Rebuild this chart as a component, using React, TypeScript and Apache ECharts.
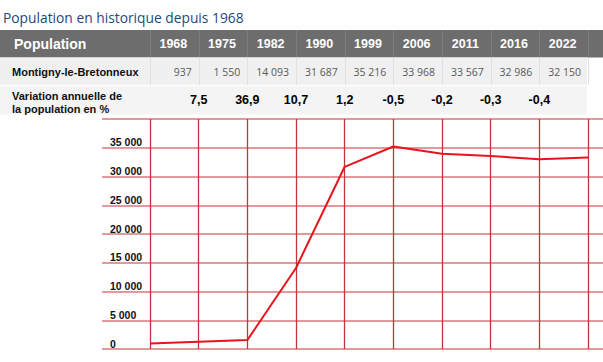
import React, { useEffect, useRef } from "react";
import * as echarts from "echarts";

// ---- data ----
const years = ["1968", "1975", "1982", "1990", "1999", "2006", "2011", "2016", "2022"];
const population = [937, 1550, 14093, 31687, 35216, 33968, 33567, 32986, 32150];
const variation = ["7,5", "36,9", "10,7", "1,2", "-0,5", "-0,2", "-0,3", "-0,4"];
const commune = "Montigny-le-Bretonneux";
const title = "Population en historique depuis 1968";
const rowHeader = "Population";
const rowVariation = ["Variation annuelle de", "la population en %"];
// line as drawn in the picture: slot on the grid and value
const lineSlots = [0, 2, 3, 4, 5, 6, 7, 8, 9];
const lineValues = [937, 1550, 14093, 31687, 35216, 33968, 33567, 32986, 33300];
const yMax = 40000;
const yStep = 5000;

const fmt = (n: number) => String(n).replace(/\B(?=(\d{3})+(?!\d))/g, " ");

// ---- layout ----
const W = 603;
const H = 362;
const COL0 = 150;
const COLN = 588;
const STEP = (COLN - COL0) / 9;
const bound = (i: number) => COL0 + i * STEP;
const SANS = "'Liberation Sans', Arial, sans-serif";

function buildGraphic() {
  const els: any[] = [];
  els.push({
    type: "text",
    x: 3,
    y: 17,
    style: { text: title, fill: "#1b4a7e", font: "13.8px 'Open Sans', sans-serif", verticalAlign: "middle" },
  });
  els.push({ type: "rect", shape: { x: 0, y: 30, width: W, height: 27.5 }, style: { fill: "#6d6d6d" } });
  els.push({ type: "rect", shape: { x: 0, y: 57.5, width: COLN - 1, height: 27.5 }, style: { fill: "#f0f0f0" } });
  els.push({ type: "rect", shape: { x: 0, y: 85.5, width: COLN - 1, height: 29 }, style: { fill: "#f4f4f4" } });
  els.push({ type: "line", shape: { x1: 0, y1: 85.2, x2: COLN - 1, y2: 85.2 }, style: { stroke: "#ffffff", lineWidth: 1 } });
  for (let i = 0; i <= years.length; i++) {
    const x = Math.round(bound(i)) + 0.5;
    els.push({ type: "line", shape: { x1: x, y1: 30, x2: x, y2: 57.5 }, style: { stroke: "#7c7c7c", lineWidth: 1 } });
    els.push({ type: "line", shape: { x1: x, y1: 57.5, x2: x, y2: 85 }, style: { stroke: "#e0e0e0", lineWidth: 1 } });
  }
  els.push({
    type: "text",
    x: 14,
    y: 44,
    style: { text: rowHeader, fill: "#ffffff", font: `bold 14px ${SANS}`, verticalAlign: "middle" },
  });
  years.forEach((yr, i) => {
    els.push({
      type: "text",
      x: bound(i) + STEP / 2 - 1,
      y: 44,
      style: { text: yr, fill: "#ffffff", font: `bold 12.5px ${SANS}`, align: "center", verticalAlign: "middle" },
    });
  });
  els.push({
    type: "text",
    x: 12,
    y: 72,
    style: { text: commune, fill: "#111111", font: `bold 11px ${SANS}`, verticalAlign: "middle" },
  });
  population.forEach((v, i) => {
    els.push({
      type: "text",
      x: bound(i + 1) - 7,
      y: 72,
      style: { text: fmt(v), fill: "#5a5a5a", font: "10.5px 'Open Sans', sans-serif", align: "right", verticalAlign: "middle" },
    });
  });
  rowVariation.forEach((t, k) => {
    els.push({
      type: "text",
      x: 12,
      y: 96 + k * 12.5,
      style: { text: t, fill: "#111111", font: `bold 11px ${SANS}`, verticalAlign: "middle" },
    });
  });
  variation.forEach((t, i) => {
    els.push({
      type: "text",
      x: bound(i + 1),
      y: 100,
      style: { text: t, fill: "#000000", font: `bold 12.5px ${SANS}`, align: "center", verticalAlign: "middle" },
    });
  });
  return els;
}

export default function App() {
  const ref = useRef<HTMLDivElement>(null);
  useEffect(() => {
    document.body.style.margin = "0";
    if (!ref.current) return;
    const chart = echarts.init(ref.current, null, { renderer: "svg" });
    const top = 119;
    const bottom = H - 349;
    chart.setOption({
      animation: false,
      backgroundColor: "#ffffff",
      grid: [
        { left: 102, right: 0, top, bottom },
        { left: COL0, right: W - COLN, top, bottom },
      ],
      xAxis: [
        { type: "value", gridIndex: 0, show: false, min: 0, max: 1 },
        {
          type: "value",
          gridIndex: 1,
          min: 0,
          max: 9,
          interval: 1,
          axisLine: { show: false },
          axisTick: { show: false },
          axisLabel: { show: false },
          splitLine: { show: true, lineStyle: { color: "#c4323a", width: 1.3 } },
        },
      ],
      yAxis: [
        {
          type: "value",
          gridIndex: 0,
          min: 0,
          max: yMax,
          interval: yStep,
          axisLine: { show: false },
          axisTick: { show: false },
          splitLine: { show: true, lineStyle: { color: "#d8777b", width: 1.5 } },
          axisLabel: {
            inside: true,
            margin: 8,
            align: "left",
            verticalAlign: "bottom",
            lineHeight: 11,
            color: "#111111",
            fontWeight: "bold",
            fontSize: 10.5,
            fontFamily: SANS,
            formatter: (v: number) => (v >= yMax ? "" : v === 0 ? "0" : fmt(v)),
          },
        },
        {
          type: "value",
          gridIndex: 1,
          min: 0,
          max: yMax,
          interval: yStep,
          show: false,
          splitLine: { show: false },
        },
      ],
      series: [
        {
          type: "line",
          xAxisIndex: 1,
          yAxisIndex: 1,
          data: lineSlots.map((s, i) => [s, lineValues[i]]),
          symbol: "none",
          lineStyle: { color: "#e8141c", width: 2 },
          z: 5,
        },
      ],
      graphic: buildGraphic(),
    });
    return () => chart.dispose();
  }, []);
  return <div ref={ref} style={{ width: W, height: H }} />;
}
